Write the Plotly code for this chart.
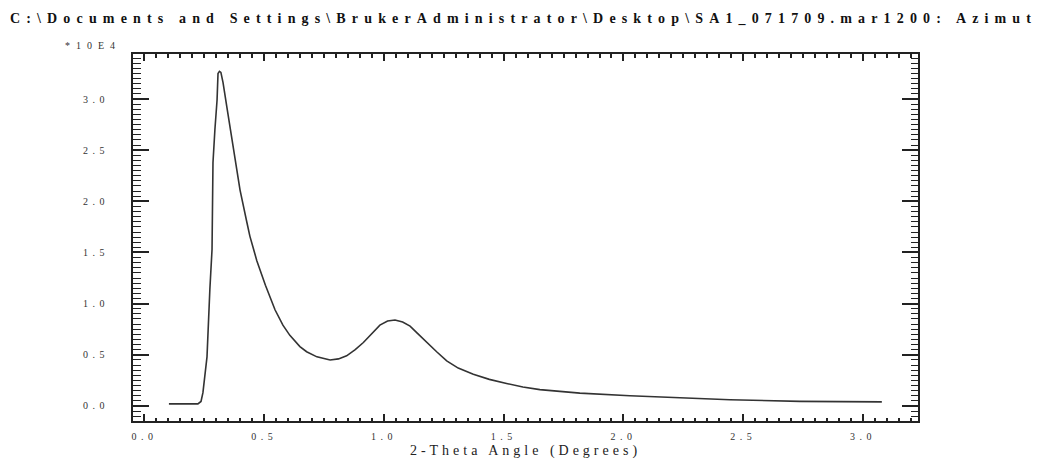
import plotly.graph_objects as go

# 2-Theta angle (degrees)
two_theta = [0.102, 0.223, 0.236, 0.244, 0.261, 0.265, 0.273, 0.282, 0.284, 0.286,
             0.294, 0.303, 0.307, 0.313, 0.319, 0.328, 0.344, 0.357, 0.370, 0.399,
             0.427, 0.440, 0.469, 0.505, 0.545, 0.578, 0.607, 0.649, 0.677, 0.720,
             0.775, 0.810, 0.844, 0.880, 0.914, 0.950, 0.983, 1.015, 1.046, 1.078,
             1.109, 1.140, 1.178, 1.220, 1.262, 1.310, 1.373, 1.440, 1.512, 1.580,
             1.651, 1.730, 1.818, 2.027, 2.236, 2.445, 2.737, 3.079]
# Intensity in units of 10^4
intensity = [0.02, 0.02, 0.044, 0.13, 0.48, 0.75, 1.14, 1.53, 1.97, 2.38,
             2.70, 2.99, 3.25, 3.27, 3.26, 3.16, 2.92, 2.73, 2.53, 2.11,
             1.80, 1.66, 1.42, 1.18, 0.94, 0.79, 0.69, 0.58, 0.53, 0.48,
             0.45, 0.46, 0.49, 0.55, 0.62, 0.71, 0.79, 0.83, 0.84, 0.82,
             0.78, 0.71, 0.62, 0.53, 0.44, 0.37, 0.31, 0.26, 0.22, 0.185,
             0.16, 0.14, 0.125, 0.10, 0.08, 0.06, 0.045, 0.04]

x_tickvals = [0.0, 0.5, 1.0, 1.5, 2.0, 2.5, 3.0]
y_tickvals = [0.0, 0.5, 1.0, 1.5, 2.0, 2.5, 3.0]

title_text = "C:\\Documents and Settings\\BrukerAdministrator\\Desktop\\SA1_071709.mar1200: Azimut"
x_title = "2-Theta Angle (Degrees)"
scale_label = "*10E4"

def spaced(s, px):
    return f"<span style='letter-spacing:{px}px'>{s}</span>"

fig = go.Figure()
fig.add_trace(go.Scatter(x=two_theta, y=intensity, mode="lines",
                         line=dict(color="#333333", width=1.6),
                         hoverinfo="skip", showlegend=False))

serif = "Liberation Serif"
common = dict(showline=True, linecolor="#222222", linewidth=2, mirror="ticks",
              ticks="inside", tickcolor="#222222", tickwidth=1.5,
              showgrid=False, zeroline=False, automargin=False,
              tickfont=dict(family=serif, size=10, color="#333333"))

fig.update_xaxes(range=[-0.048, 3.23], tickvals=x_tickvals,
                 ticktext=[spaced(f"{v:.1f}", 4.5) for v in x_tickvals],
                 ticklen=7, ticklabelstandoff=5,
                 minor=dict(dtick=0.05, ticks="inside", ticklen=3.5, tickcolor="#222222", tickwidth=1.5),
                 title=dict(text=spaced(x_title, 4), font=dict(family=serif, size=14, color="#222222"),
                            standoff=5),
                 **common)
fig.update_yaxes(range=[-0.147, 3.44], tickvals=y_tickvals,
                 ticktext=[spaced(f"{v:.1f}", 4.5) for v in y_tickvals],
                 ticklen=16, ticklabelstandoff=20,
                 minor=dict(dtick=0.05, ticks="inside", ticklen=7.5, tickcolor="#222222", tickwidth=1.2),
                 **common)

fig.add_annotation(text=spaced(scale_label, 6), xref="paper", yref="paper",
                   x=-0.089, y=1.0245, xanchor="left", yanchor="middle", showarrow=False,
                   font=dict(family=serif, size=10, color="#333333"))

fig.update_layout(
    width=1045, height=459,
    margin=dict(l=133, r=127, t=54, b=38, autoexpand=False),
    paper_bgcolor="white", plot_bgcolor="white",
    title=dict(text="<b>" + spaced(title_text, 6.15) + "</b>", x=10/1045, xref="container", xanchor="left",
               y=1 - 18/459, yref="container", yanchor="middle", automargin=False,
               font=dict(family=serif, size=14, color="#111111")),
)

fig.write_html("out.html")
